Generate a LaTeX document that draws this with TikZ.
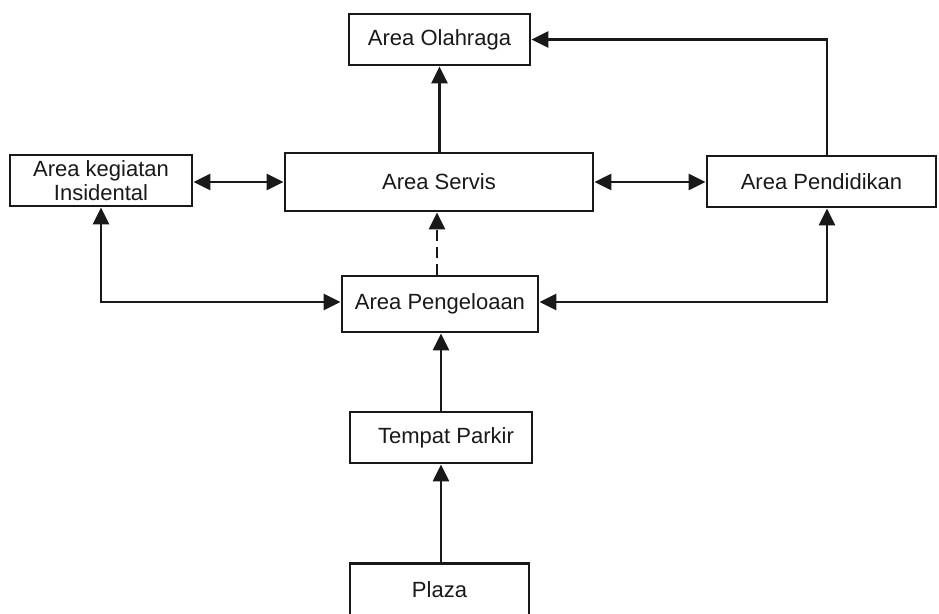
\documentclass[tikz,border=0pt]{standalone}
\usepackage{fontspec}
\setmainfont{Liberation Sans}
\usetikzlibrary{arrows.meta}
\begin{document}
\begin{tikzpicture}[x=1pt,y=-1pt,
  box/.style={draw=black!90, line width=2.8pt, fill=white, inner sep=0pt,
    font=\fontsize{22}{25}\selectfont, text=black!90},
  link/.style={draw=black!90, line width=2.8pt},
  tip/.style={-{Triangle[length=17pt,width=16pt]}},
  tips/.style={{Triangle[length=17pt,width=16pt]}-{Triangle[length=17pt,width=16pt]}}]
\useasboundingbox (0,0) rectangle (939,613);
\fill[white] (0,0) rectangle (939,613);

% boxes
\node[box, minimum width=181pt, minimum height=51pt] (olah) at (439.5,39.5) {Area Olahraga};
\node[box, minimum width=182pt, minimum height=51pt, align=center] (insi) at (101,180.5) {Area kegiatan\\[-1pt]Insidental};
\node[box, minimum width=308pt, minimum height=58pt] (serv) at (439,182) {Area Servis};
\node[box, minimum width=229pt, minimum height=51pt] (pend) at (821.5,181.5) {Area Pendidikan};
\node[box, minimum width=196pt, minimum height=56pt] (peng) at (440,304) {Area Pengeloaan};
\node[box, minimum width=182pt, minimum height=51pt] (park) at (441,437.5) {\hspace{10pt}Tempat Parkir};
\node[box, minimum width=179pt, minimum height=53pt] (plaza) at (439.5,590) {Plaza};

% connectors
\draw[link, tip] (olah.south |- serv.north) -- (olah.south);
\draw[link, tips] (insi.east |- serv.west) -- (serv.west);
\draw[link, tips] (serv.east) -- (pend.west |- serv.east);
\draw[link, tip] ([xshift=5.5pt]pend.north) |- (olah.east);
\draw[link, tip, dash pattern=on 11pt off 6pt] ([xshift=-3pt]peng.north) -- ([xshift=-3pt]peng.north |- serv.south);
\draw[link, tips] (insi.south) |- ([yshift=2pt]peng.west);
\draw[link, tips] ([xshift=5.5pt]pend.south) |- ([yshift=2pt]peng.east);
\draw[link, tip] (park.north) -- (park.north |- peng.south);
\draw[link, tip] (plaza.north -| park.north) -- (park.south);
\end{tikzpicture}
\end{document}
